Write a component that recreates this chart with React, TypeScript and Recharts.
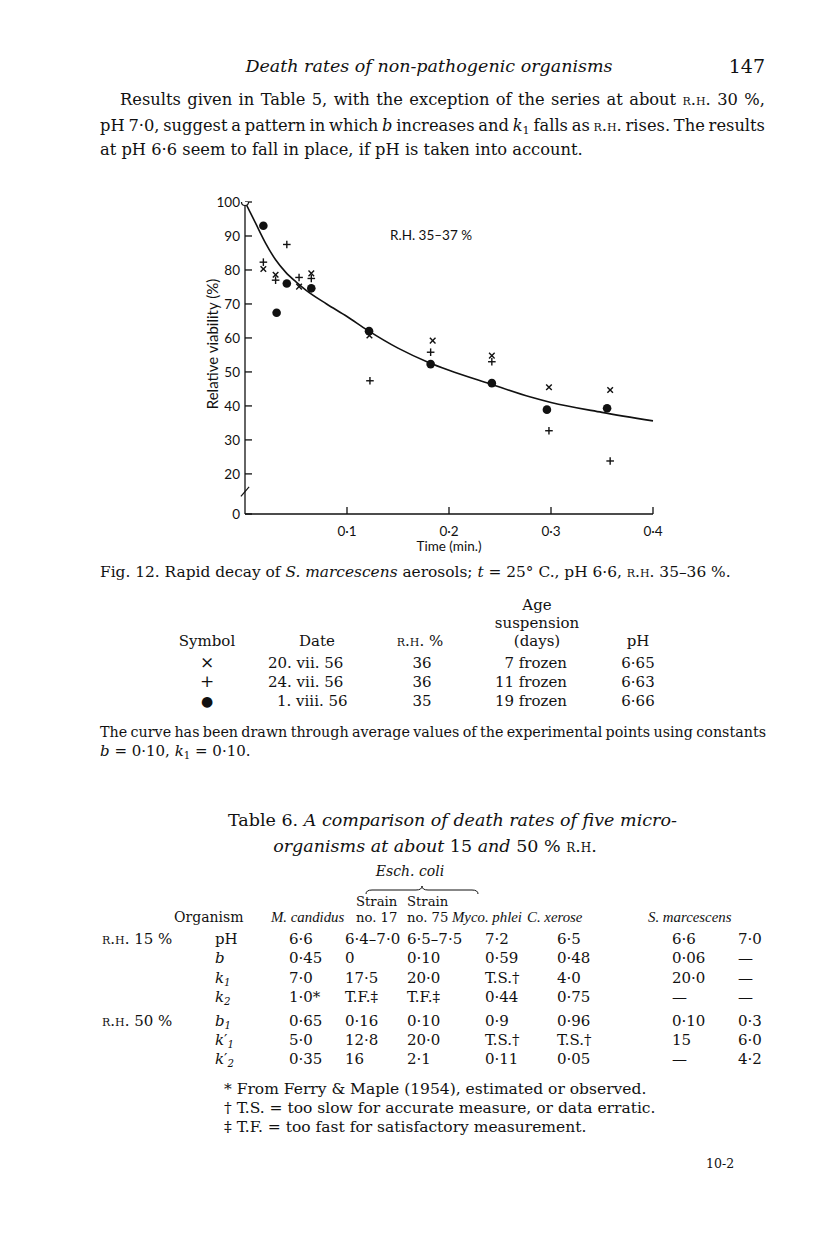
import React from 'react';
import { ComposedChart, Line, Scatter, XAxis, YAxis, ReferenceLine } from 'recharts';

const SERIF = '"DejaVu Serif", "Liberation Serif", serif';
const NARROW_SERIF = '"Liberation Serif", serif';
const SANS = 'Lato, "Open Sans", sans-serif';
const INK = '#111';

// Fig. 12 — time (min.) and relative viability (%) per run
const crossTime = [0.018, 0.03, 0.053, 0.065, 0.122, 0.184, 0.242, 0.298, 0.358];
const crossViab = [80.3, 78.6, 75.1, 79.0, 60.7, 59.2, 54.8, 45.5, 44.7];
const plusTime = [0.018, 0.03, 0.041, 0.053, 0.065, 0.1225, 0.182, 0.242, 0.298, 0.358];
const plusViab = [82.3, 77.0, 87.5, 77.8, 77.5, 47.4, 55.8, 53.0, 32.7, 23.8];
const dotTime = [0.018, 0.031, 0.041, 0.065, 0.1216, 0.182, 0.242, 0.296, 0.355];
const dotViab = [93.0, 67.4, 76.0, 74.6, 62.0, 52.3, 46.7, 38.9, 39.3];
const startTime = [0];
const startViab = [100];
// fitted curve (b = 0.10, k1 = 0.10)
const curveTime = [0, 0.01, 0.02, 0.03, 0.04, 0.05, 0.06, 0.08, 0.1, 0.12, 0.15, 0.18, 0.2, 0.24, 0.28, 0.3, 0.35, 0.4];
const curveViab = [100, 94, 88, 83, 79.3, 76.5, 74, 70, 66.3, 62.3, 57, 52.8, 50.5, 46.5, 42.6, 41, 38.1, 35.6];

const xTicks = [0.1, 0.2, 0.3, 0.4];
const Y_FLOOR = 8.2; // broken axis: bottom of the axis is labelled 0
const yTicks = [Y_FLOOR, 20, 30, 40, 50, 60, 70, 80, 90, 100];

// symbol key
const keySymbols = ['×', '+', '●'];
const keyDates = ['20. vii. 56', '24. vii. 56', '1. viii. 56'];
const keyRH = ['36', '36', '35'];
const keyAge = ['7 frozen', '11 frozen', '19 frozen'];
const keyPH = ['6·65', '6·63', '6·66'];

// Table 6
const rh15Params = ['pH', 'b', 'k1', 'k2'];
const rh15Rows = [
  ['6·6', '6·4–7·0', '6·5–7·5', '7·2', '6·5', '6·6', '7·0'],
  ['0·45', '0', '0·10', '0·59', '0·48', '0·06', '—'],
  ['7·0', '17·5', '20·0', 'T.S.†', '4·0', '20·0', '—'],
  ['1·0*', 'T.F.‡', 'T.F.‡', '0·44', '0·75', '—', '—'],
];
const rh50Params = ['b1', "k1'", "k2'"];
const rh50Rows = [
  ['0·65', '0·16', '0·10', '0·9', '0·96', '0·10', '0·3'],
  ['5·0', '12·8', '20·0', 'T.S.†', 'T.S.†', '15', '6·0'],
  ['0·35', '16', '2·1', '0·11', '0·05', '—', '4·2'],
];
const footnotes = [
  '* From Ferry & Maple (1954), estimated or observed.',
  '† T.S. = too slow for accurate measure, or data erratic.',
  '‡ T.F. = too fast for satisfactory measurement.',
];

const toPts = (t: number[], v: number[]) => t.map((x, i) => ({ t: x, v: v[i] }));
const crossData = toPts(crossTime, crossViab);
const plusData = toPts(plusTime, plusViab);
const dotData = toPts(dotTime, dotViab);
const startData = toPts(startTime, startViab);
const curveData = toPts(curveTime, curveViab);

const Cross = (p: any) => (
  <g stroke={INK} strokeWidth={1.4}>
    <line x1={p.cx - 2.8} y1={p.cy - 2.8} x2={p.cx + 2.8} y2={p.cy + 2.8} />
    <line x1={p.cx - 2.8} y1={p.cy + 2.8} x2={p.cx + 2.8} y2={p.cy - 2.8} />
  </g>
);
const Plus = (p: any) => (
  <g stroke={INK} strokeWidth={1.4}>
    <line x1={p.cx - 3.8} y1={p.cy} x2={p.cx + 3.8} y2={p.cy} />
    <line x1={p.cx} y1={p.cy - 3.8} x2={p.cx} y2={p.cy + 3.8} />
  </g>
);
const Dot = (p: any) => <circle cx={p.cx} cy={p.cy} r={4.3} fill={INK} />;
const OpenDot = (p: any) => <circle cx={p.cx} cy={p.cy} r={3.5} fill="#fff" stroke={INK} strokeWidth={1.2} />;

const fmtX = (v: number) => v.toFixed(1).replace('.', '·');
const fmtY = (v: number) => (v < 10 ? '0' : String(v));

function T({ x, y, size = 16, w, align = 'left', font = SERIF, style, children }: any) {
  const s: React.CSSProperties = {
    position: 'absolute', top: y - size * 0.56, fontSize: size, lineHeight: `${size}px`,
    fontFamily: font, color: INK, whiteSpace: 'nowrap', left: x,
  };
  if (w !== undefined) Object.assign(s, { width: w, textAlign: 'justify', textAlignLast: 'justify' });
  else if (align === 'center') s.transform = 'translateX(-50%)';
  else if (align === 'right') s.transform = 'translateX(-100%)';
  return <div style={{ ...s, ...style }}>{children}</div>;
}
const SC = ({ children }: any) => <span style={{ fontVariant: 'small-caps' }}>{children}</span>;
const Sub = ({ children }: any) => (
  <sub style={{ fontSize: '0.68em', verticalAlign: '-0.3em', lineHeight: 0 }}>{children}</sub>
);
const NI = ({ children }: any) => <i style={{ fontFamily: NARROW_SERIF, fontSize: '1.06em' }}>{children}</i>;
const Param = ({ p }: { p: string }) => {
  const prime = p.endsWith("'");
  const base = prime ? p.slice(0, -1) : p;
  if (base === 'pH') return <span>pH</span>;
  return (
    <i>
      {base[0]}
      {prime ? <span style={{ fontStyle: 'normal' }}>′</span> : null}
      {base.length > 1 ? <Sub>{base.slice(1)}</Sub> : null}
    </i>
  );
};

const COLX = [289, 345, 407, 485, 557, 672, 738];

function Fig12() {
  return (
    <div style={{ position: 'absolute', left: 180, top: 182 }}>
      <ComposedChart width={500} height={390} margin={{ top: 20, right: 27, bottom: 18, left: 20 }}>
        <XAxis
          type="number" dataKey="t" domain={[0, 0.4]} ticks={xTicks} tickFormatter={fmtX}
          height={40} tickSize={-7} tickMargin={19}
          tick={{ fill: INK, fontSize: 13.5, fontFamily: SANS }}
          axisLine={{ stroke: INK, strokeWidth: 1.3 }} tickLine={{ stroke: INK, strokeWidth: 1.3 }}
          label={{ value: 'Time (min.)', position: 'insideBottom', offset: 3, fill: INK, fontSize: 13.5, fontFamily: SANS }}
        />
        <YAxis
          type="number" dataKey="v" domain={[Y_FLOOR, 100]} ticks={yTicks} tickFormatter={fmtY}
          allowDataOverflow width={45} tickSize={-7} tickMargin={12} interval={0}
          tick={{ fill: INK, fontSize: 13.5, fontFamily: SANS }}
          axisLine={{ stroke: INK, strokeWidth: 1.3 }} tickLine={{ stroke: INK, strokeWidth: 1.3 }}
          label={{ value: 'Relative viability (%)', angle: -90, position: 'insideLeft', offset: 13, textAnchor: 'middle', dy: -14, fill: INK, fontSize: 15, fontFamily: SANS }}
        />
        <Line data={curveData} dataKey="v" type="monotone" stroke={INK} strokeWidth={1.6} dot={false} isAnimationActive={false} />
        <Scatter data={crossData} dataKey="v" shape={Cross} isAnimationActive={false} />
        <Scatter data={plusData} dataKey="v" shape={Plus} isAnimationActive={false} />
        <Scatter data={dotData} dataKey="v" shape={Dot} isAnimationActive={false} />
        <Scatter data={startData} dataKey="v" shape={OpenDot} isAnimationActive={false} />
        <ReferenceLine segment={[{ x: 0, y: 13.6 }, { x: 0, y: 16 }]} stroke="#fff" strokeWidth={5} ifOverflow="visible" />
        <ReferenceLine segment={[{ x: -0.004, y: 13.4 }, { x: 0.004, y: 16.2 }]} stroke={INK} strokeWidth={1.2} ifOverflow="visible" />
      </ComposedChart>
    </div>
  );
}

export default function App() {
  return (
    <div style={{ position: 'absolute', left: 0, top: 0, width: 816, height: 1245, background: '#fff', color: INK }}>
      <T x={429} y={68} size={17.5} align="center"><i>Death rates of non-pathogenic organisms</i></T>
      <T x={765} y={68} size={19} align="right">147</T>

      <T x={120} y={101} size={16.3} w={645}>
        Results given in Table 5, with the exception of the series at about <SC>r.h.</SC> 30 %,
      </T>
      <T x={100} y={127} size={16.3} w={665} style={{ wordSpacing: -3.5 }}>
        pH 7·0, suggest a pattern in which <i>b</i> increases and <i>k</i><Sub>1</Sub> falls as <SC>r.h.</SC> rises. The results
      </T>
      <T x={100} y={151} size={16.3}>at pH 6·6 seem to fall in place, if pH is taken into account.</T>

      <Fig12 />
      <T x={390} y={237} size={13.5} font={SANS}>R.H. 35–37 %</T>

      <T x={100} y={574} size={15.4}>
        Fig. 12. Rapid decay of <i>S. marcescens</i> aerosols; <i>t</i> = 25° C., pH 6·6, <SC>r.h.</SC> 35–36 %.
      </T>

      <T x={537} y={606} size={15} align="center">Age</T>
      <T x={537} y={624} size={15} align="center">suspension</T>
      <T x={207} y={642} size={15} align="center">Symbol</T>
      <T x={317} y={642} size={15} align="center">Date</T>
      <T x={420} y={642} size={15} align="center"><SC>r.h.</SC> %</T>
      <T x={537} y={642} size={15} align="center">(days)</T>
      <T x={638} y={642} size={15} align="center">pH</T>
      {keySymbols.map((s, i) => (
        <React.Fragment key={i}>
          <T x={207} y={664 + i * 19} size={i === 2 ? 14 : 17} align="center">{s}</T>
          <T x={i === 2 ? 277 : 268} y={664 + i * 19} size={15}>{keyDates[i]}</T>
          <T x={422} y={664 + i * 19} size={15} align="center">{keyRH[i]}</T>
          <T x={567} y={664 + i * 19} size={15} align="right">{keyAge[i]}</T>
          <T x={638} y={664 + i * 19} size={15} align="center">{keyPH[i]}</T>
        </React.Fragment>
      ))}

      <T x={100} y={733} size={14.3} w={666} style={{ wordSpacing: -1.4 }}>
        The curve has been drawn through average values of the experimental points using constants
      </T>
      <T x={100} y={752} size={15}>
        <i>b</i> = 0·10, <i>k</i><Sub>1</Sub> = 0·10.
      </T>

      <T x={228} y={822} size={17.5}>
        Table 6. <i>A comparison of death rates of five micro-</i>
      </T>
      <T x={435} y={848} size={17.5} align="center">
        <i>organisms at about</i> 15 <i>and</i> 50 % <SC>r.h.</SC>
      </T>

      <T x={410} y={872} size={14} align="center"><i>Esch. coli</i></T>
      <svg style={{ position: 'absolute', left: 0, top: 0 }} width={816} height={1245} pointerEvents="none">
        <path d="M366,894 q0,-4 6,-4 L416,890 q6,0 6,-4 q0,4 6,4 L472,890 q6,0 6,4" fill="none" stroke={INK} strokeWidth={1} />
      </svg>
      <T x={356} y={902} size={13.2}>Strain</T>
      <T x={407} y={902} size={13.2}>Strain</T>
      <T x={174} y={918} size={14}>Organism</T>
      <T x={271} y={918} size={14}><NI>M. candidus</NI></T>
      <T x={356} y={918} size={13.2}>no. 17</T>
      <T x={407} y={918} size={13.2}>no. 75</T>
      <T x={452} y={918} size={14}><NI>Myco. phlei</NI></T>
      <T x={527} y={918} size={14}><NI>C. xerose</NI></T>
      <T x={648} y={918} size={14}><NI>S. marcescens</NI></T>

      <T x={102} y={940} size={15}><SC>r.h.</SC> 15 %</T>
      {rh15Rows.map((row, r) => (
        <React.Fragment key={'a' + r}>
          <T x={215} y={940 + r * 19.5} size={15}><Param p={rh15Params[r]} /></T>
          {row.map((c, j) => (
            <T key={j} x={COLX[j]} y={940 + r * 19.5} size={15}>{c}</T>
          ))}
        </React.Fragment>
      ))}
      <T x={102} y={1022} size={15}><SC>r.h.</SC> 50 %</T>
      {rh50Rows.map((row, r) => (
        <React.Fragment key={'b' + r}>
          <T x={215} y={1022 + r * 19} size={15}><Param p={rh50Params[r]} /></T>
          {row.map((c, j) => (
            <T key={j} x={COLX[j]} y={1022 + r * 19} size={15}>{c}</T>
          ))}
        </React.Fragment>
      ))}

      {footnotes.map((f, i) => (
        <T key={i} x={224} y={1091 + i * 19} size={15.5}>{f}</T>
      ))}
      <T x={706} y={1165} size={12.5}>10-2</T>
    </div>
  );
}
